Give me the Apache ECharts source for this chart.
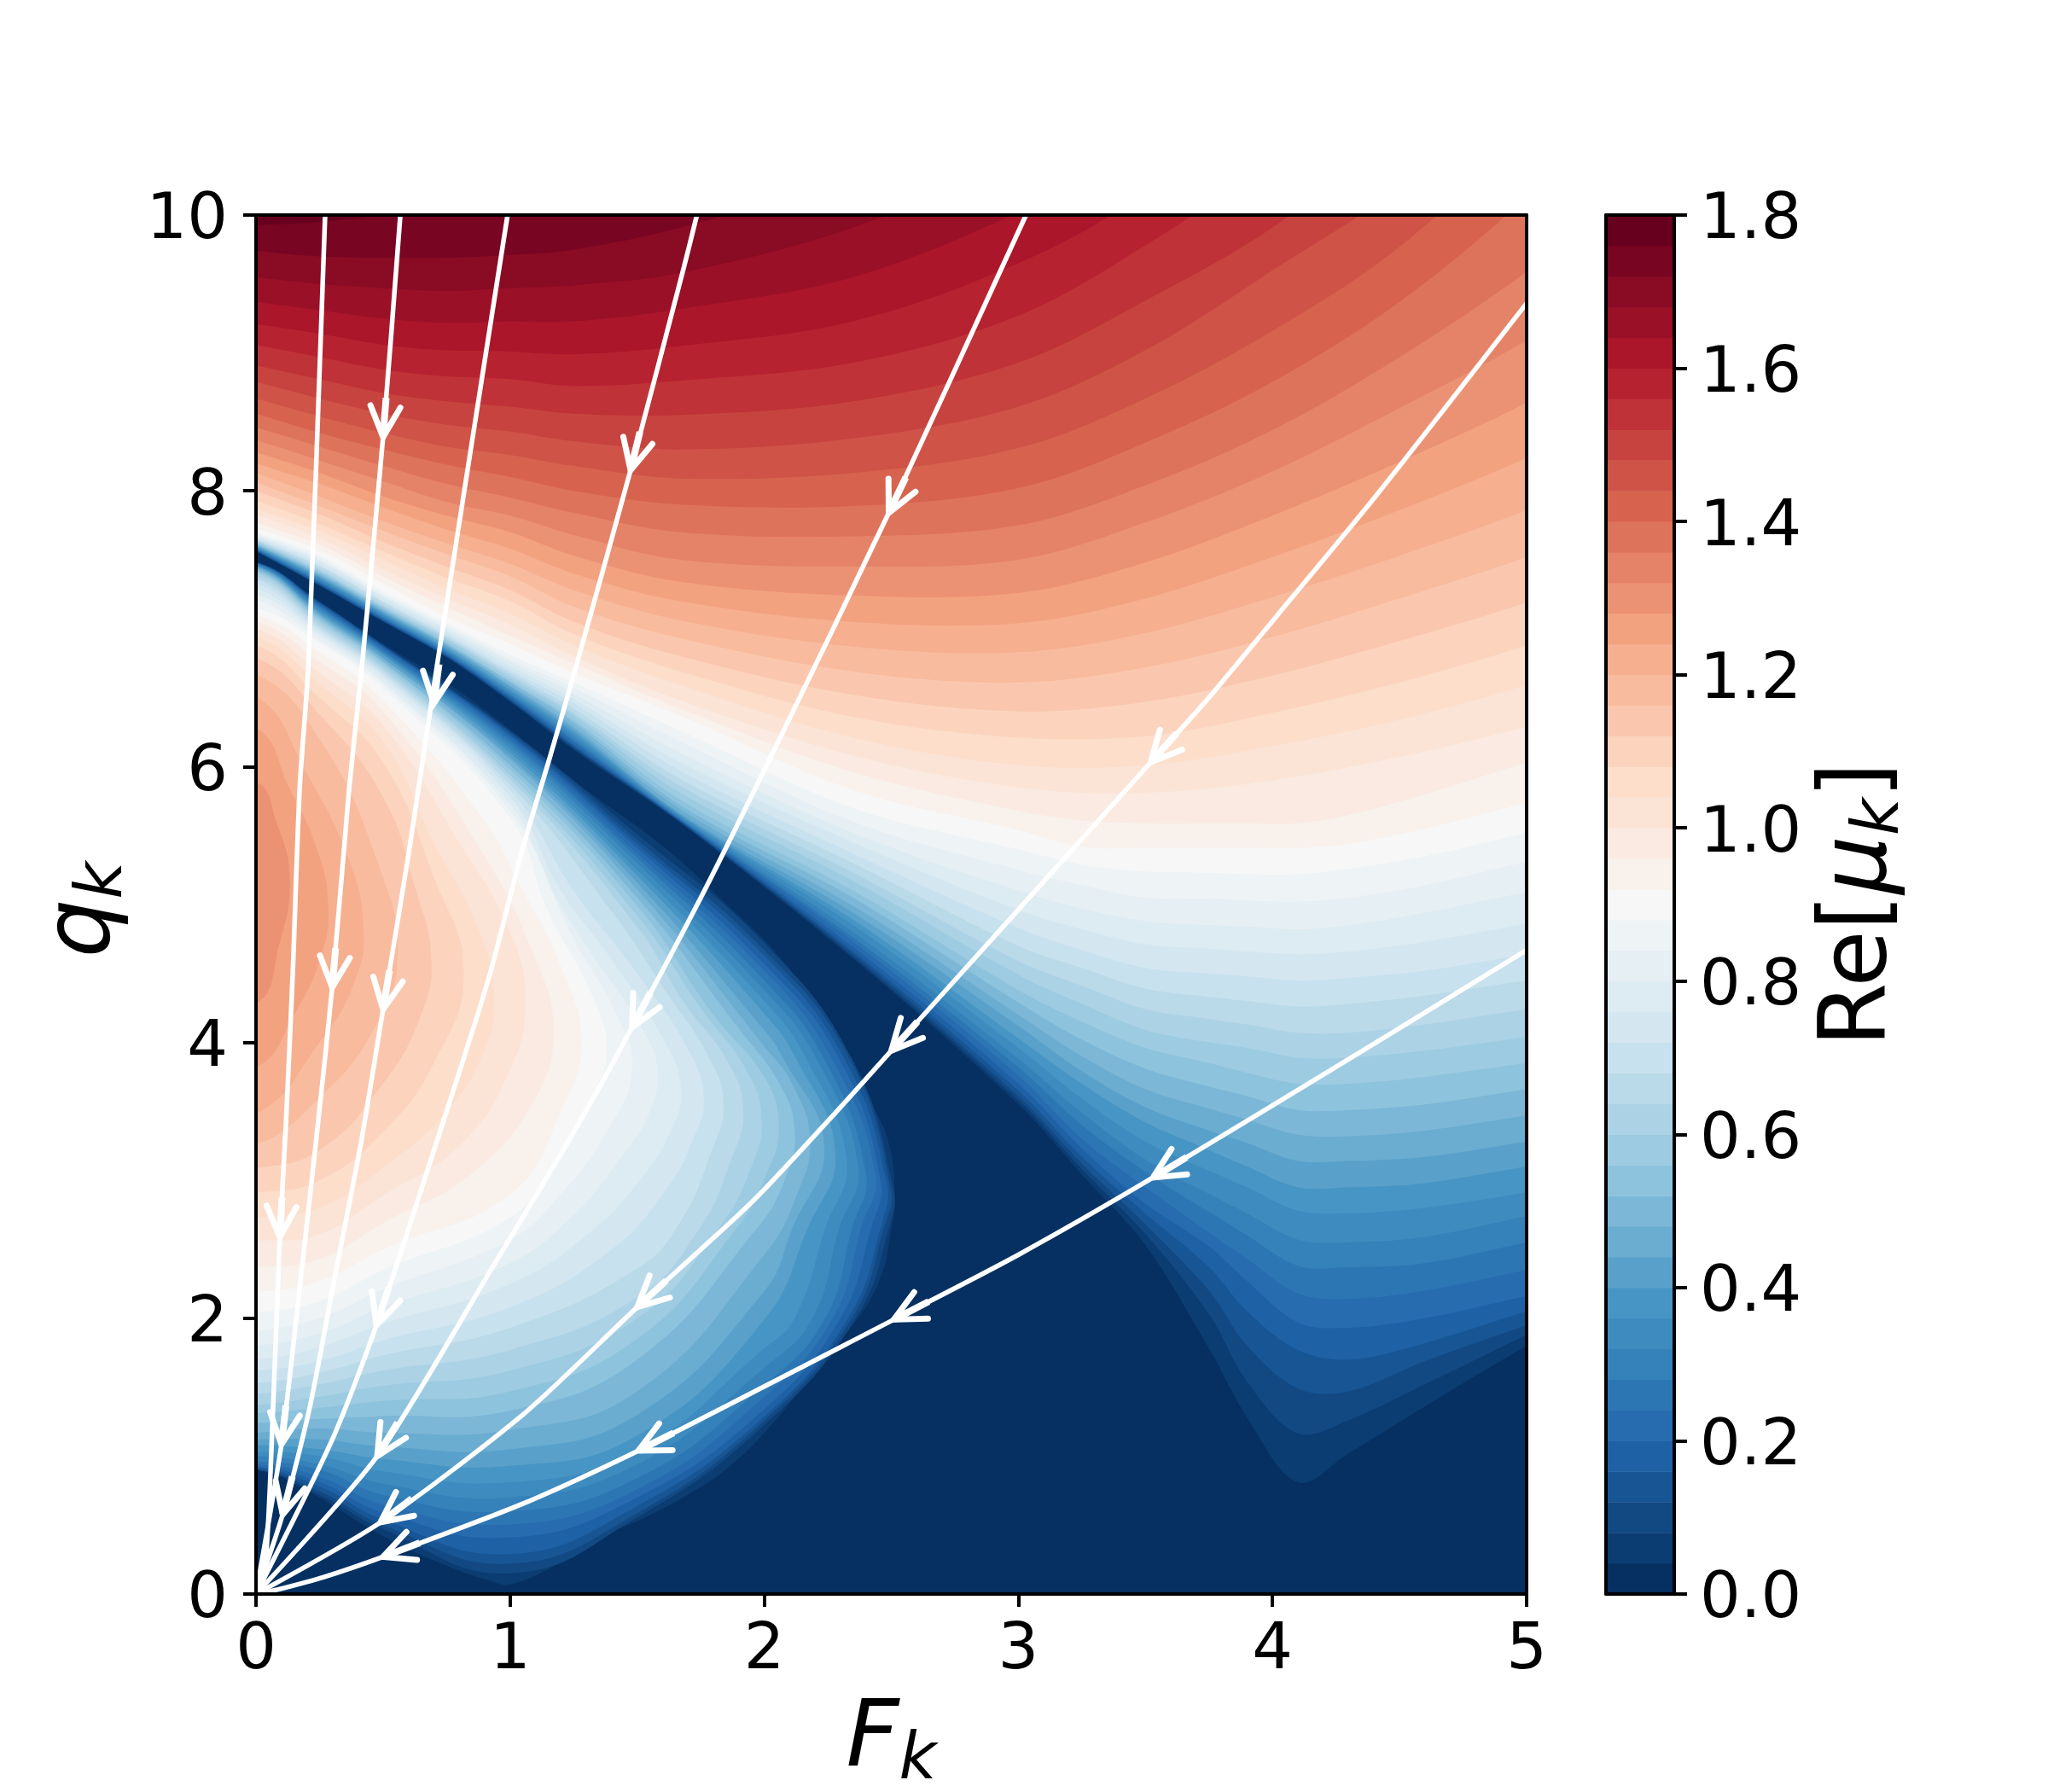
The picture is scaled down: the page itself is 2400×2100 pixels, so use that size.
<!DOCTYPE html>
<html>

<head>
    <meta http-equiv="Content-Type" content="text/html; charset=utf-8">
    <title></title>
    <script src="https://cdn.jsdelivr.net/npm/echarts@6/dist/echarts.min.js"></script>
    <style>
        html, body { margin: 0; padding: 0; background: #fff; }
    </style>
</head>

<body>
    <div id="chart" style="width:2400px;height:2100px"></div>
    <script>
    // colorbar levels, one band per step, top of the last band is 1.8
    var levels = [0, 0.04, 0.08, 0.12, 0.16, 0.2, 0.24, 0.28, 0.32, 0.36, 0.4, 0.44, 0.48, 0.52, 0.56, 0.6, 0.64, 0.68, 0.72, 0.76, 0.8, 0.84, 0.88, 0.92, 0.96, 1, 1.04, 1.08, 1.12, 1.16, 1.2, 1.24, 1.28, 1.32, 1.36, 1.4, 1.44, 1.48, 1.52, 1.56, 1.6, 1.64, 1.68, 1.72, 1.76];
    var rdbu = ["#053061", "#2166ac", "#4393c3", "#92c5de", "#d1e5f0", "#f7f7f7", "#fddbc7", "#f4a582", "#d6604d", "#b2182b", "#67001f"];
    var xTicks = [0, 1, 2, 3, 4, 5];
    var yTicks = [0, 2, 4, 6, 8, 10];

    // upper sheet: q of each contour read at these F
    var upperF = [0, 0.25, 0.5, 0.75, 1, 1.25, 1.67, 2.35, 3, 3.25, 3.5, 3.75, 3.9, 4.1, 4.3, 4.6, 5];
    var upperLow = [
        [7.56, 7.31, 7.05, 6.79, 6.47, 6.12, 5.59, 4.605, 3.55, 3.04, 2.53, 1.78, 1.28, 0.81, 1.02, 1.36, 1.80],
        [7.562, 7.313, 7.053, 6.795, 6.475, 6.13, 5.595, 4.62, 3.58, 3.08, 2.61, 2.03, 1.54, 1.165, 1.26, 1.52, 1.88],
        [7.565, 7.318, 7.058, 6.80, 6.48, 6.14, 5.60, 4.64, 3.61, 3.12, 2.68, 2.20, 1.80, 1.49, 1.47, 1.69, 1.95],
        [7.568, 7.32, 7.06, 6.805, 6.49, 6.15, 5.605, 4.66, 3.65, 3.17, 2.76, 2.37, 2.05, 1.77, 1.70, 1.82, 2.05],
        [7.571, 7.33, 7.07, 6.81, 6.50, 6.16, 5.61, 4.69, 3.70, 3.23, 2.83, 2.52, 2.27, 1.97, 1.93, 2.00, 2.16],
        [7.576, 7.335, 7.075, 6.82, 6.51, 6.18, 5.615, 4.73, 3.76, 3.30, 2.95, 2.62, 2.43, 2.18, 2.14, 2.20, 2.35],
        [7.58, 7.34, 7.08, 6.825, 6.52, 6.19, 5.62, 4.76, 3.82, 3.40, 3.06, 2.77, 2.60, 2.38, 2.37, 2.40, 2.55],
        [7.585, 7.35, 7.09, 6.835, 6.53, 6.21, 5.63, 4.80, 3.88, 3.49, 3.15, 2.90, 2.76, 2.57, 2.55, 2.59, 2.74],
        [7.59, 7.36, 7.10, 6.845, 6.545, 6.23, 5.64, 4.85, 3.96, 3.59, 3.28, 3.07, 2.95, 2.78, 2.76, 2.80, 2.91],
        [7.596, 7.37, 7.11, 6.855, 6.56, 6.25, 5.65, 4.89, 4.03, 3.70, 3.42, 3.22, 3.10, 2.95, 2.95, 2.98, 3.10],
        [7.603, 7.38, 7.12, 6.87, 6.58, 6.27, 5.66, 4.94, 4.12, 3.79, 3.53, 3.36, 3.27, 3.14, 3.14, 3.17, 3.28],
        [7.608, 7.39, 7.13, 6.88, 6.59, 6.29, 5.69, 4.99, 4.20, 3.90, 3.66, 3.52, 3.44, 3.33, 3.32, 3.36, 3.47],
        [7.615, 7.40, 7.14, 6.89, 6.61, 6.32, 5.72, 5.05, 4.29, 4.02, 3.81, 3.68, 3.61, 3.51, 3.51, 3.55, 3.66],
        [7.622, 7.41, 7.15, 6.90, 6.62, 6.34, 5.76, 5.10, 4.38, 4.15, 3.96, 3.85, 3.78, 3.70, 3.70, 3.75, 3.85],
        [7.63, 7.42, 7.16, 6.92, 6.64, 6.37, 5.81, 5.17, 4.49, 4.28, 4.09, 4.00, 3.96, 3.89, 3.89, 3.94, 4.04],
        [7.637, 7.43, 7.17, 6.93, 6.66, 6.39, 5.86, 5.23, 4.59, 4.41, 4.24, 4.17, 4.13, 4.07, 4.07, 4.13, 4.24],
        [7.645, 7.45, 7.19, 6.945, 6.68, 6.42, 5.91, 5.30, 4.70, 4.54, 4.39, 4.33, 4.30, 4.26, 4.28, 4.34, 4.45],
        [7.655, 7.46, 7.20, 6.96, 6.70, 6.46, 5.97, 5.37, 4.83, 4.67, 4.54, 4.50, 4.48, 4.45, 4.47, 4.52, 4.64],
        [7.665, 7.48, 7.22, 6.98, 6.73, 6.49, 6.03, 5.45, 4.96, 4.82, 4.71, 4.68, 4.66, 4.64, 4.66, 4.73, 4.86],
        [7.676, 7.495, 7.235, 7.00, 6.76, 6.53, 6.10, 5.52, 5.10, 4.97, 4.88, 4.85, 4.84, 4.82, 4.85, 4.94, 5.09],
        [7.687, 7.51, 7.25, 7.02, 6.78, 6.57, 6.18, 5.60, 5.25, 5.14, 5.05, 5.04, 5.03, 5.02, 5.05, 5.14, 5.31],
        [7.698, 7.53, 7.27, 7.04, 6.81, 6.61, 6.26, 5.70, 5.40, 5.29, 5.24, 5.23, 5.22, 5.22, 5.26, 5.35, 5.52],
        [7.73, 7.57, 7.33, 7.09, 6.89, 6.68, 6.37, 5.83, 5.54, 5.42, 5.41, 5.41, 5.41, 5.41, 5.44, 5.55, 5.74],
        [7.773, 7.61, 7.38, 7.16, 6.95, 6.75, 6.42, 5.96, 5.68, 5.61, 5.59, 5.59, 5.59, 5.59, 5.65, 5.80, 6.03]
    ];
    // levels from 1.00 up, fewer stations are enough there
    var upperHighF = [0, 0.25, 0.5, 0.75, 1, 1.25, 1.67, 2.35, 3, 3.5, 4, 4.5, 5];
    var upperHigh = [
        [7.83, 7.66, 7.43, 7.22, 7.03, 6.80, 6.48, 6.08, 5.85, 5.81, 5.90, 6.07, 6.29],
        [7.87, 7.71, 7.50, 7.29, 7.11, 6.88, 6.59, 6.21, 6.01, 6.01, 6.15, 6.34, 6.59],
        [7.93, 7.76, 7.56, 7.37, 7.20, 6.96, 6.69, 6.36, 6.21, 6.22, 6.39, 6.61, 6.88],
        [8.00, 7.83, 7.63, 7.45, 7.28, 7.05, 6.80, 6.52, 6.40, 6.47, 6.66, 6.91, 7.19],
        [8.06, 7.89, 7.71, 7.54, 7.38, 7.16, 6.93, 6.69, 6.61, 6.72, 6.94, 7.22, 7.52],
        [8.13, 7.96, 7.78, 7.62, 7.47, 7.28, 7.06, 6.87, 6.83, 6.97, 7.23, 7.53, 7.86],
        [8.20, 8.05, 7.88, 7.72, 7.58, 7.40, 7.20, 7.05, 7.04, 7.22, 7.52, 7.86, 8.24],
        [8.28, 8.13, 7.96, 7.82, 7.70, 7.53, 7.34, 7.24, 7.26, 7.48, 7.82, 8.21, 8.64],
        [8.37, 8.22, 8.07, 7.92, 7.82, 7.68, 7.50, 7.45, 7.50, 7.77, 8.14, 8.60, 9.09],
        [8.46, 8.32, 8.18, 8.05, 7.95, 7.84, 7.70, 7.67, 7.75, 8.04, 8.44, 8.97, 9.59],
        [8.56, 8.42, 8.30, 8.19, 8.10, 8.00, 7.90, 7.89, 8.02, 8.35, 8.79, 9.37, 10.13],
        [8.67, 8.54, 8.42, 8.32, 8.26, 8.18, 8.09, 8.13, 8.31, 8.67, 9.16, 9.77, 10.63],
        [8.79, 8.67, 8.56, 8.48, 8.43, 8.36, 8.30, 8.38, 8.61, 9.02, 9.60, 10.21, 11.1],
        [8.91, 8.81, 8.71, 8.65, 8.61, 8.56, 8.55, 8.65, 8.93, 9.38, 9.91, 10.63, 11.6],
        [9.06, 8.97, 8.88, 8.83, 8.81, 8.76, 8.80, 8.93, 9.27, 9.78, 10.4, 11.1, 12],
        [9.21, 9.14, 9.06, 9.02, 9.01, 8.99, 9.05, 9.23, 9.65, 10.16, 10.9, 11.6, 12.5],
        [9.37, 9.31, 9.25, 9.22, 9.23, 9.23, 9.32, 9.55, 10.02, 10.5, 11.3, 12, 13],
        [9.55, 9.50, 9.47, 9.45, 9.47, 9.49, 9.58, 9.91, 10.43, 11, 11.8, 12.5, 13.5],
        [9.74, 9.70, 9.69, 9.69, 9.71, 9.75, 9.91, 10.3, 10.9, 11.5, 12.2, 13, 14],
        [9.925, 9.95, 10.0, 10.05, 10.1, 10.2, 10.4, 10.8, 11.3, 12, 12.7, 13.5, 14.5]
    ];

    // lobe under the dark ridge, each contour as [F, q] from bottom left round to top left
    var lobe = [
        [[0, 0.90], [0.21, 0.74], [0.49, 0.43], [0.71, 0.235], [0.93, 0.09], [1, 0.07], [1.16, 0.19], [1.38, 0.43], [1.52, 0.545], [1.69, 0.71], [1.86, 0.92], [2.04, 1.25], [2.19, 1.60], [2.32, 1.88], [2.45, 2.26], [2.50, 2.65], [2.514, 2.9], [2.49, 3.27], [2.43, 3.53], [2.33, 3.88], [2.21, 4.24], [2.06, 4.62], [1.83, 5.04], [1.61, 5.41], [1.25, 5.9], [1, 6.27], [0.75, 6.61], [0.5, 6.89], [0.25, 7.2], [0, 7.485]],
        [[0, 0.90], [0.25, 0.72], [0.5, 0.47], [1, 0.15], [1.5, 0.555], [2, 1.225], [2.36, 2], [2.49, 2.65], [2.507, 2.95], [2.34, 3.9], [2, 4.72], [1.5, 5.51], [1, 6.26], [0.5, 6.885], [0.25, 7.195], [0, 7.484]],
        [[0, 0.905], [0.25, 0.745], [0.5, 0.50], [1, 0.22], [1.5, 0.586], [2, 1.257], [2.345, 2], [2.47, 2.65], [2.497, 2.95], [2.33, 3.9], [2, 4.67], [1.5, 5.47], [1, 6.25], [0.5, 6.88], [0.25, 7.19], [0, 7.482]],
        [[0, 0.915], [0.25, 0.78], [0.5, 0.54], [1, 0.29], [1.5, 0.638], [2, 1.287], [2.33, 2], [2.457, 2.65], [2.48, 3.0], [2.31, 3.9], [2, 4.63], [1.5, 5.44], [1, 6.235], [0.5, 6.87], [0.25, 7.185], [0, 7.48]],
        [[0, 0.925], [0.25, 0.81], [0.5, 0.59], [1, 0.41], [1.5, 0.70], [2, 1.34], [2.30, 2], [2.42, 2.65], [2.458, 3.0], [2.29, 3.9], [2, 4.57], [1.5, 5.41], [1, 6.22], [0.5, 6.865], [0.25, 7.175], [0, 7.478]],
        [[0, 0.94], [0.25, 0.85], [0.5, 0.65], [1, 0.505], [1.5, 0.76], [2, 1.43], [2.27, 2], [2.38, 2.65], [2.436, 3.05], [2.26, 3.9], [2, 4.52], [1.5, 5.37], [1, 6.20], [0.5, 6.85], [0.25, 7.165], [0, 7.475]],
        [[0, 0.96], [0.25, 0.90], [0.5, 0.72], [1, 0.60], [1.5, 0.84], [2, 1.515], [2.24, 2], [2.345, 2.65], [2.40, 3.05], [2.23, 3.9], [2, 4.45], [1.5, 5.34], [1, 6.18], [0.5, 6.84], [0.25, 7.155], [0, 7.47]],
        [[0, 1.0], [0.25, 0.94], [0.5, 0.80], [1, 0.70], [1.5, 0.94], [2, 1.64], [2.19, 2], [2.295, 2.65], [2.37, 3.1], [2.20, 3.9], [2, 4.38], [1.5, 5.30], [1, 6.155], [0.5, 6.83], [0.25, 7.145], [0, 7.465]],
        [[0, 1.03], [0.25, 1.0], [0.5, 0.89], [1, 0.81], [1.5, 1.04], [2, 1.78], [2.12, 2], [2.24, 2.65], [2.325, 3.15], [2.16, 3.9], [2, 4.30], [1.5, 5.25], [1, 6.13], [0.5, 6.82], [0.25, 7.13], [0, 7.46]],
        [[0, 1.08], [0.25, 1.05], [0.5, 0.98], [1, 0.93], [1.5, 1.15], [2, 1.99], [2.17, 2.65], [2.28, 3.2], [2.12, 3.9], [2, 4.21], [1.5, 5.21], [1, 6.10], [0.5, 6.81], [0.25, 7.12], [0, 7.455]],
        [[0, 1.12], [0.25, 1.12], [0.5, 1.07], [1, 1.05], [1.5, 1.30], [2, 2.195], [2.11, 2.65], [2.236, 3.25], [2.07, 3.9], [2, 4.09], [1.5, 5.16], [1, 6.07], [0.5, 6.79], [0.25, 7.105], [0, 7.45]],
        [[0, 1.17], [0.25, 1.20], [0.5, 1.17], [1, 1.19], [1.5, 1.47], [2, 2.46], [2.13, 2.9], [2.18, 3.3], [2.11, 3.7], [2.01, 3.95], [1.5, 5.11], [1, 6.05], [0.5, 6.78], [0.25, 7.095], [0, 7.44]],
        [[0, 1.24], [0.25, 1.27], [0.5, 1.29], [1, 1.33], [1.5, 1.70], [1.97, 2.65], [2.08, 3.0], [2.12, 3.35], [2.06, 3.7], [1.9, 4.1], [1.5, 5.05], [1, 6.01], [0.5, 6.76], [0.25, 7.08], [0, 7.43]],
        [[0, 1.31], [0.25, 1.35], [0.5, 1.40], [1, 1.47], [1.5, 1.85], [1.89, 2.65], [2.01, 3.05], [2.057, 3.4], [2, 3.75], [1.8, 4.2], [1.5, 4.99], [1, 5.98], [0.5, 6.75], [0.25, 7.065], [0, 7.42]],
        [[0, 1.37], [0.25, 1.43], [0.5, 1.51], [1, 1.62], [1.5, 2.0], [1.82, 2.65], [1.95, 3.1], [1.99, 3.45], [1.93, 3.8], [1.75, 4.25], [1.5, 4.92], [1, 5.94], [0.5, 6.73], [0.25, 7.05], [0, 7.405]],
        [[0, 1.45], [0.25, 1.52], [0.5, 1.62], [1, 1.77], [1.5, 2.15], [1.745, 2.65], [1.87, 3.15], [1.918, 3.5], [1.86, 3.85], [1.68, 4.3], [1.5, 4.84], [1, 5.91], [0.5, 6.71], [0.25, 7.03], [0, 7.385]],
        [[0, 1.53], [0.25, 1.605], [0.5, 1.73], [1, 1.93], [1.5, 2.36], [1.67, 2.7], [1.79, 3.2], [1.84, 3.55], [1.78, 3.9], [1.62, 4.35], [1.4, 4.95], [1, 5.87], [0.5, 6.69], [0.25, 7.01], [0, 7.36]],
        [[0, 1.62], [0.25, 1.69], [0.5, 1.84], [1, 2.08], [1.4, 2.5], [1.62, 2.95], [1.72, 3.3], [1.762, 3.6], [1.7, 3.95], [1.5, 4.5], [1.25, 5.1], [1, 5.83], [0.5, 6.67], [0.25, 6.99], [0, 7.33]],
        [[0, 1.70], [0.25, 1.79], [0.5, 1.96], [1, 2.25], [1.3, 2.6], [1.51, 3.0], [1.63, 3.35], [1.673, 3.65], [1.61, 4.0], [1.4, 4.6], [1.2, 5.1], [1, 5.78], [0.5, 6.65], [0.25, 6.97], [0, 7.29]],
        [[0, 1.80], [0.25, 1.89], [0.5, 2.08], [1, 2.40], [1.25, 2.75], [1.45, 3.2], [1.55, 3.5], [1.58, 3.8], [1.52, 4.1], [1.3, 4.7], [1.15, 5.15], [1, 5.73], [0.5, 6.62], [0.25, 6.95], [0, 7.25]],
        [[0, 1.91], [0.25, 2.0], [0.5, 2.21], [1, 2.57], [1.2, 2.9], [1.38, 3.35], [1.48, 3.8], [1.42, 4.2], [1.25, 4.75], [1, 5.68], [0.5, 6.60], [0.25, 6.92], [0, 7.21]],
        [[0, 2.04], [0.25, 2.125], [0.5, 2.35], [1, 2.73], [1.18, 3.15], [1.32, 3.6], [1.38, 3.95], [1.32, 4.35], [1.15, 4.95], [1, 5.63], [0.5, 6.57], [0.25, 6.90], [0, 7.15]],
        [[0, 2.19], [0.25, 2.27], [0.5, 2.50], [1, 2.90], [1.2, 3.5], [1.28, 4.0], [1.2, 4.55], [1.05, 5.1], [0.9, 5.6], [0.5, 6.48], [0.25, 6.83], [0, 7.10]],
        [[0, 2.37], [0.25, 2.43], [0.5, 2.69], [0.85, 3.05], [1.1, 3.6], [1.17, 4.1], [1.1, 4.6], [0.9, 5.35], [0.5, 6.40], [0.25, 6.76], [0, 7.05]],
        [[0, 2.56], [0.25, 2.61], [0.5, 2.89], [0.8, 3.25], [1, 3.8], [1.06, 4.3], [1, 4.8], [0.8, 5.45], [0.5, 6.30], [0.25, 6.68], [0, 7.0]],
        [[0, 2.73], [0.25, 2.80], [0.5, 3.09], [0.75, 3.5], [0.9, 3.95], [0.935, 4.33], [0.88, 4.8], [0.7, 5.45], [0.5, 6.18], [0.25, 6.60], [0, 6.94]],
        [[0, 2.91], [0.25, 3.0], [0.5, 3.35], [0.7, 3.85], [0.818, 4.5], [0.7, 5.2], [0.5, 6.03], [0.25, 6.50], [0, 6.88]],
        [[0, 3.09], [0.25, 3.22], [0.5, 3.7], [0.65, 4.2], [0.69, 4.61], [0.63, 5.1], [0.5, 5.78], [0.25, 6.38], [0, 6.79]],
        [[0, 3.26], [0.25, 3.6], [0.45, 4.05], [0.557, 4.6], [0.48, 5.30], [0.25, 6.20], [0, 6.67]],
        [[0, 3.48], [0.25, 4.0], [0.39, 4.45], [0.423, 4.83], [0.37, 5.3], [0.2, 5.95], [0, 6.51]],
        [[0, 3.82], [0.15, 4.2], [0.26, 4.65], [0.284, 5.01], [0.24, 5.4], [0.13, 5.85], [0, 6.28]],
        [[0, 4.28], [0.09, 4.7], [0.133, 5.19], [0.08, 5.6], [0, 5.89]]
    ];

    // streamlines, drawn from their far end to the origin
    var streamA = [[0.272, 10], [0.206, 6.73], [0.172, 5.85], [0.145, 4.52], [0.118, 3.42], [0.094, 2.59], [0.067, 1.34], [0.038, 0.24], [0, 0]];
    var streamB = [[0.568, 10], [0.50, 8.39], [0.417, 6.73], [0.367, 5.85], [0.30, 4.40], [0.239, 3.33], [0.172, 2.22], [0.10, 1.085], [0, 0]];
    var streamC = [[0.99, 10], [0.712, 6.73], [0.60, 5.36], [0.50, 4.24], [0.413, 3.27], [0.305, 2.25], [0.21, 1.34], [0.105, 0.577], [0, 0]];
    var streamD = [[1.735, 10], [1.685, 9.63], [1.474, 8.15], [1.26, 6.73], [1.16, 6.09], [1.05, 5.41], [0.915, 4.46], [0.72, 3.33], [0.474, 1.95], [0.30, 1.12], [0, 0]];
    var streamE = [[3.03, 10], [2.49, 7.84], [2.06, 6.2], [1.77, 5.12], [1.48, 4.11], [1.26, 3.38], [0.934, 2.38], [0.477, 1.0], [0, 0]];
    var streamG = [[5, 9.36], [4.41, 7.97], [4.02, 7.10], [3.74, 6.48], [3.52, 6.03], [2.95, 4.86], [2.50, 3.94], [2.28, 3.49], [1.95, 2.84], [1.50, 2.08], [1.05, 1.30], [0.49, 0.52], [0, 0]];
    var streamH = [[5, 4.67], [4.39, 3.98], [3.53, 3.02], [3.0, 2.46], [2.51, 1.99], [1.505, 1.04], [1.05, 0.655], [0.50, 0.27], [0.27, 0.125], [0.08, 0.03], [0, 0]];
    var streams = [streamA, streamB, streamC, streamD, streamE, streamG, streamH];

    // arrow tip [F, q] and a point further up the same line [F, q]
    var arrowTips = [
        [0.094, 2.59, 0.118, 3.42],
        [0.50, 8.39, 0.568, 10], [0.30, 4.40, 0.367, 5.85], [0.10, 1.085, 0.172, 2.22],
        [0.70, 6.46, 0.76, 7.3], [0.50, 4.24, 0.60, 5.36], [0.105, 0.577, 0.21, 1.34],
        [1.474, 8.15, 1.67, 9.63], [0.474, 1.95, 0.72, 3.33],
        [2.49, 7.84, 2.7, 8.65], [1.48, 4.11, 1.77, 5.12], [0.477, 1.0, 0.934, 2.38],
        [3.52, 6.03, 3.74, 6.48], [2.50, 3.94, 2.95, 4.86], [1.50, 2.08, 1.95, 2.84], [0.49, 0.52, 1.05, 1.30],
        [3.53, 3.02, 4.39, 3.98], [2.51, 1.99, 3.0, 2.46], [1.505, 1.04, 2.0, 1.5], [0.50, 0.27, 1.05, 0.655]
    ];

    function bandColor(i) {
        return echarts.color.lerp(i / (levels.length - 1), rdbu);
    }

    function buildContours() {
        var items = [{ points: [[-1, -1], [6, -1], [6, 16], [-1, 16]], color: bandColor(0), smooth: 0 }];
        for (var i = 1; i < levels.length; i++) {
            var row, stations;
            if (i <= upperLow.length) {
                row = upperLow[i - 1];
                stations = upperF;
            } else {
                row = upperHigh[i - 1 - upperLow.length];
                stations = upperHighF;
            }
            var pts = [[-0.5, row[0] + (row[0] - row[1]) * 2]];
            for (var j = 0; j < row.length; j++) pts.push([stations[j], row[j]]);
            var n = row.length - 1;
            pts.push([5.5, row[n] + (row[n] - row[n - 1]) * 1.2]);
            pts.push([5.6, 17], [-0.6, 17]);
            items.push({ points: pts, color: bandColor(i), smooth: 0.35 });
            if (lobe[i - 1]) {
                var c = lobe[i - 1];
                var lp = [[-0.3, c[0][1] - 0.02]].concat(c);
                lp.push([-0.3, c[c.length - 1][1] + 0.02]);
                items.push({ points: lp, color: bandColor(i), smooth: 0.45 });
            }
        }
        return items;
    }

    var contourItems = buildContours();
    var chart = echarts.init(document.getElementById("chart"));

    function renderContour(params, api) {
        var it = contourItems[params.dataIndex];
        var p = [];
        for (var i = 0; i < it.points.length; i++) p.push(api.coord(it.points[i]));
        return {
            type: "polygon",
            shape: { points: p, smooth: it.smooth },
            style: { fill: it.color, stroke: null }
        };
    }

    function renderArrow(params, api) {
        var a = arrowTips[params.dataIndex];
        var tip = api.coord([a[0], a[1]]);
        var back = api.coord([a[2], a[3]]);
        var ang = Math.atan2(back[1] - tip[1], back[0] - tip[0]);
        var barb = 40, half = 26 * Math.PI / 180, shaft = 46;
        var b1 = [tip[0] + barb * Math.cos(ang - half), tip[1] + barb * Math.sin(ang - half)];
        var b2 = [tip[0] + barb * Math.cos(ang + half), tip[1] + barb * Math.sin(ang + half)];
        var s = [tip[0] + shaft * Math.cos(ang), tip[1] + shaft * Math.sin(ang)];
        var style = { stroke: "#fff", fill: null, lineWidth: 7, lineCap: "round", lineJoin: "miter" };
        return {
            type: "group",
            children: [
                { type: "polyline", shape: { points: [b1, tip, b2] }, style: style },
                { type: "polyline", shape: { points: [tip, s] }, style: { stroke: "#fff", fill: null, lineWidth: 8 } }
            ]
        };
    }

    function renderBand(params, api) {
        var i = params.dataIndex;
        var top = i + 1 < levels.length ? levels[i + 1] : 1.8;
        var a = api.coord([0, levels[i]]);
        var b = api.coord([1, top]);
        return {
            type: "rect",
            shape: { x: a[0], y: b[1], width: b[0] - a[0], height: a[1] - b[1] + 0.5 },
            style: { fill: bandColor(i) }
        };
    }

    function getOption() {
        var font = "DejaVu Sans";
        var line = { show: true, onZero: false, lineStyle: { color: "#000", width: 4 } };
        var tick = { show: true, length: 15, lineStyle: { color: "#000", width: 4 } };
        var label = { color: "#000", fontFamily: font, fontSize: 75 };
        // matplotlib sets its y tick labels a little lower than the tick
        var lowered = { a: { color: "#000", fontFamily: font, fontSize: 75, padding: [16, 0, 0, 0] } };
        var nameRich = {
            i: { fontFamily: font, fontStyle: "italic", fontSize: 108, color: "#000" },
            s: { fontFamily: font, fontStyle: "italic", fontSize: 76, color: "#000", padding: [46, 0, 0, 0] }
        };
        var series = [{
            type: "custom",
            xAxisIndex: 0,
            yAxisIndex: 0,
            clip: true,
            silent: true,
            renderItem: renderContour,
            data: contourItems.map(function(c, i) { return [i]; })
        }];
        streams.forEach(function(s) {
            series.push({
                type: "line",
                xAxisIndex: 0,
                yAxisIndex: 0,
                data: s,
                smooth: 0.25,
                showSymbol: false,
                silent: true,
                clip: true,
                lineStyle: { color: "#fff", width: 5.5 }
            });
        });
        series.push({
            type: "custom",
            xAxisIndex: 0,
            yAxisIndex: 0,
            clip: true,
            silent: true,
            renderItem: renderArrow,
            data: arrowTips.map(function(a, i) { return [i]; })
        });
        series.push({
            type: "custom",
            xAxisIndex: 2,
            yAxisIndex: 2,
            silent: true,
            renderItem: renderBand,
            data: levels.map(function(l, i) { return [i]; })
        });
        return {
            animation: false,
            backgroundColor: "#fff",
            grid: [
                { left: 300, top: 252, width: 1489, height: 1616, outerBoundsMode: "none" },
                { left: 1882, top: 252, width: 80, height: 1616, outerBoundsMode: "none" }
            ],
            xAxis: [{
                    gridIndex: 0, type: "value", min: xTicks[0], max: xTicks[5], interval: 1, z: 5,
                    axisLine: line, axisTick: tick, axisLabel: Object.assign({ margin: 30 }, label), splitLine: { show: false },
                    name: "{i|F}{s|k}", nameLocation: "middle", nameGap: 112, nameTextStyle: { rich: nameRich }
                },
                { gridIndex: 0, type: "value", position: "top", min: 0, max: 5, z: 5, axisLine: line, axisTick: { show: false }, axisLabel: { show: false }, splitLine: { show: false } },
                { gridIndex: 1, type: "value", min: 0, max: 1, z: 5, axisLine: line, axisTick: { show: false }, axisLabel: { show: false }, splitLine: { show: false } },
                { gridIndex: 1, type: "value", position: "top", min: 0, max: 1, z: 5, axisLine: line, axisTick: { show: false }, axisLabel: { show: false }, splitLine: { show: false } }
            ],
            yAxis: [{
                    gridIndex: 0, type: "value", min: yTicks[0], max: yTicks[5], interval: 2, z: 5,
                    axisLine: line, axisTick: tick,
                    axisLabel: { margin: 33, rich: lowered, formatter: function(v) { return "{a|" + v + "}"; } },
                    splitLine: { show: false },
                    name: "{i|q}{s|k}", nameLocation: "middle", nameGap: 107, nameRotate: 90,
                    nameTextStyle: { padding: [0, 12, 0, 0], rich: nameRich }
                },
                { gridIndex: 0, type: "value", position: "right", min: 0, max: 10, z: 5, axisLine: line, axisTick: { show: false }, axisLabel: { show: false }, splitLine: { show: false } },
                {
                    gridIndex: 1, type: "value", position: "right", min: 0, max: 1.8, interval: 0.2, z: 5,
                    axisLine: line, axisTick: tick,
                    axisLabel: { margin: 30, rich: lowered, formatter: function(v) { return "{a|" + v.toFixed(1) + "}"; } },
                    splitLine: { show: false },
                    name: "Re[{i|μ}{s|k}]", nameLocation: "middle", nameGap: 158, nameRotate: 90,
                    nameTextStyle: { fontFamily: font, fontSize: 108, color: "#000", rich: nameRich }
                },
                { gridIndex: 1, type: "value", position: "left", min: 0, max: 1.8, z: 5, axisLine: line, axisTick: { show: false }, axisLabel: { show: false }, splitLine: { show: false } }
            ],
            series: series
        };
    }

    chart.setOption(getOption());
    </script>
</body>

</html>
